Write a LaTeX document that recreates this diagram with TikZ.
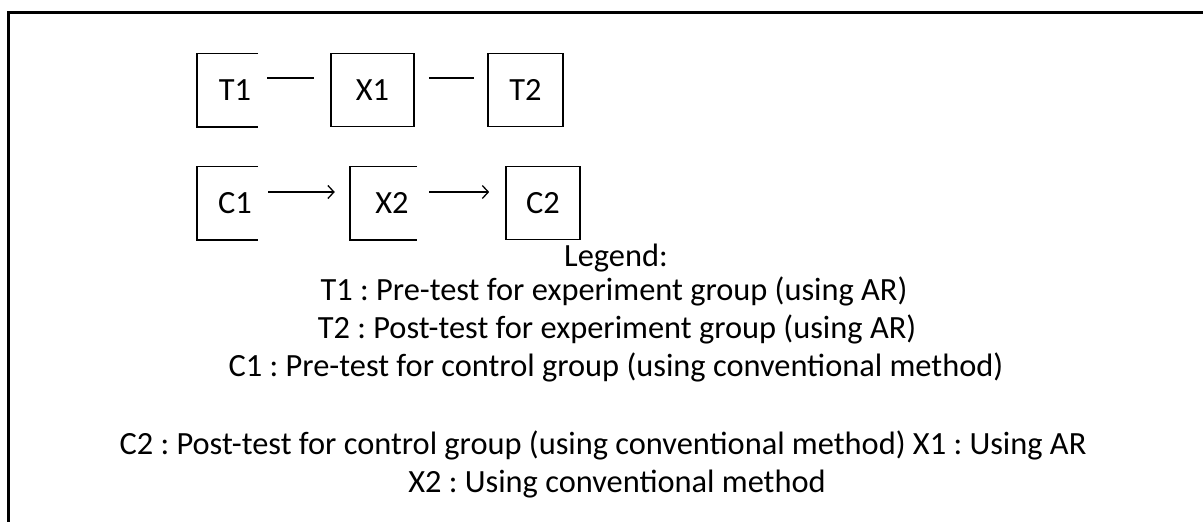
\documentclass[tikz,border=0pt]{standalone}
\usepackage{fontspec}
\setmainfont{Carlito}
\usepackage{tikz}
\usetikzlibrary{arrows,arrows.meta}
\usetikzlibrary{positioning}

\tikzset{
  fullbox/.style={rectangle,draw=black,line width=1.6pt,minimum height=73pt,inner sep=0pt},
  openbox/.style={rectangle,minimum height=73pt,inner sep=0pt},
  boxside/.style={draw=black,line width=1.6pt},
  link/.style={draw=black,line width=1.6pt},
  flow/.style={draw=black,line width=1.6pt,-{Straight Barb[length=6pt,width=13pt,line width=1.3pt]}},
  legendline/.style={anchor=base,inner sep=0pt}
}

\begin{document}
\frenchspacing
\begin{tikzpicture}[x=1pt,y=-1pt,font=\fontsize{32.4}{38}\selectfont]
\useasboundingbox (0,0) rectangle (1203,522);
\draw[line width=3pt] (8,522) -- (8,12) -- (1203,12);

\node at (235,90)[openbox,minimum width=76pt](t1){T1};
\node at (372.5,90)[fullbox,minimum width=83pt](x1){X1};
\node at (525.5,90)[fullbox,minimum width=75pt](t2){T2};
\node at (235,203)[openbox,minimum width=76pt](c1){C1};
\node at (392,203)[openbox,minimum width=84pt](x2){X2};
\node at (543,203)[fullbox,minimum width=74pt](c2){C2};

\draw[boxside] ([xshift=-15pt]t1.north east) -- (t1.north west) -- (t1.south west) -- ([xshift=-15pt]t1.south east);
\draw[boxside] ([xshift=-15pt]c1.north east) -- (c1.north west) -- (c1.south west) -- ([xshift=-15pt]c1.south east);
\draw[boxside] ([xshift=-17pt]x2.north east) -- (x2.north west) -- (x2.south west) -- ([xshift=-17pt]x2.south east);

\draw[link,shorten <=-6pt,shorten >=16pt] ([yshift=12pt]t1.east) -- ([yshift=12pt]x1.west);
\draw[link,shorten <=14pt,shorten >=13pt] ([yshift=12pt]x1.east) -- ([yshift=12pt]t2.west);
\draw[flow,shorten <=-5pt,shorten >=15pt] ([yshift=11pt]c1.east) -- ([yshift=11pt]x2.west);
\draw[flow,shorten <=-5pt,shorten >=16pt] ([yshift=11pt]x2.east) -- ([yshift=11pt]c2.west);

\node at (616,266)[legendline](lg){Legend:};
\node at (614,300)[legendline](lt1){T1 : Pre-test for experiment group (using AR)};
\node at (617,338)[legendline](lt2){T2 : Post-test for experiment group (using AR)};
\node at (616,376)[legendline](lc1){C1 : Pre-test for control group (using conventional method)};
\node at (603,454)[legendline](lc2){C2 : Post-test for control group (using conventional method) X1 : Using AR};
\node at (617,492)[legendline](lx2){X2 : Using conventional method};
\end{tikzpicture}
\end{document}
